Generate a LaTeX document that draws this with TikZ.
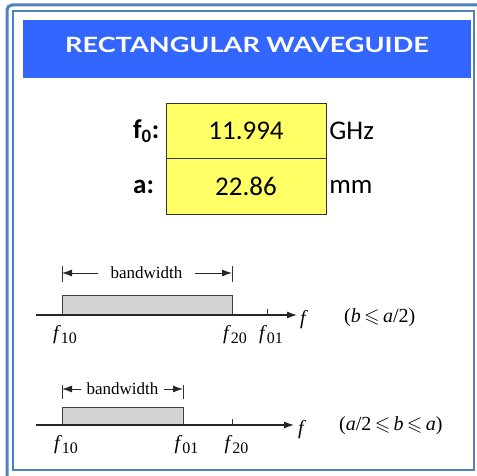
\documentclass[tikz,border=0pt]{standalone}
\usepackage{fontspec}
\usepackage{amssymb}
\usepackage{tikz}
\usetikzlibrary{arrows.meta,positioning}
\setmainfont{Liberation Serif}
\newfontfamily\calfont{Carlito}
\newfontfamily\ttlfont{Lato}
\definecolor{frameblue}{HTML}{4F81BD}
\definecolor{bannerblue}{HTML}{3366FF}
\definecolor{cellyellow}{HTML}{FFFF66}
\definecolor{bandgray}{HTML}{D4D4D4}
\newcommand{\fsub}[1]{\textit{f}\raisebox{-4.5pt}{\fontsize{16}{17}\selectfont #1}}

\begin{document}
\begin{tikzpicture}[x=1pt, y=-1pt,
    cell/.style={draw=black!80, fill=cellyellow, minimum width=160pt, minimum height=56pt,
                 inner sep=0pt, font=\calfont\fontsize{27}{30}\selectfont},
    side/.style={inner sep=0pt, font=\calfont\fontsize{27}{30}\selectfont},
    band/.style={draw=black!75, fill=bandgray, line width=0.9pt, inner sep=0pt},
    axis/.style={-{Latex[length=10pt, width=7pt]}, line width=1.1pt, black!85},
    bw/.style={-{Latex[length=10pt, width=7pt]}, line width=0.9pt, black!85},
    bar/.style={line width=0.9pt, black!80},
    flab/.style={anchor=north, inner sep=0pt, font=\fontsize{20}{22}\selectfont},
    txt/.style={inner sep=0pt, font=\fontsize{17}{20}\selectfont},
    bigtxt/.style={inner sep=0pt, anchor=west, font=\fontsize{20}{22}\selectfont}]
  \useasboundingbox (0,0) rectangle (477,476);
  \draw[frameblue, line width=3pt, rounded corners=5pt] (7,495) |- (495,5);
  \draw[frameblue, line width=2pt] (13,11) rectangle (474,470);
  \node[fill=bannerblue, minimum width=448pt, minimum height=58pt, inner sep=0pt] (banner) at (247,49) {};
  \node[inner sep=0pt, text=white, font=\ttlfont\bfseries\fontsize{21}{24}\selectfont] (title) at (247,45)
    {\scalebox{1.29}[1]{RECTANGULAR WAVEGUIDE}};

  \node[cell] (fval) at (246,131) {11.994};
  \node[cell, below=-0.8pt of fval] (aval) {22.86};
  \node[side, anchor=west] (flbl) at (133,131) {\bfseries f\textsubscript{0}:};
  \node[side, anchor=west] (albl) at (133,187) {\bfseries a:};
  \node[side, right=3pt of fval] (funit) {GHz};
  \node[side, right=3pt of aval] (aunit) {mm};

  \node[band, minimum width=170pt, minimum height=19pt, anchor=south west] (pass1) at (62,315) {};
  \coordinate (o1) at (36,315);
  \coordinate (e1) at (297,315);
  \draw[axis] (o1) -- (e1);
  \coordinate (t1) at (267,315);
  \draw[bar] (t1) -- ++(0,-6);
  \coordinate (bl1) at (62,266);
  \coordinate (br1) at (232,266);
  \draw[bar] (bl1) -- ++(0,16);
  \draw[bar] (br1) -- ++(0,16);
  \node[txt, inner xsep=12pt] (bwt1) at (146.5,273) {bandwidth};
  \draw[bw] (bwt1.west) -- (bwt1.west -| bl1);
  \draw[bw] (bwt1.east) -- (bwt1.east -| br1);
  \node[flab] (f10a) at (65,325) {\fsub{10}};
  \node[flab] (f20a) at (235,325) {\fsub{20}};
  \node[flab] (f01a) at (271,325) {\fsub{01}};
  \node[bigtxt] (fa1) at (300,320) {\textit{f}};
  \node[bigtxt] (cond1) at (344,318) {(\textit{b}\,$\leqslant$\,\textit{a}/2)};

  \node[band, minimum width=121pt, minimum height=17pt, anchor=south west] (pass2) at (62,425) {};
  \coordinate (o2) at (36,425);
  \coordinate (e2) at (294,425);
  \draw[axis] (o2) -- (e2);
  \coordinate (t2) at (232,425);
  \draw[bar] (t2) -- ++(0,-6);
  \coordinate (bl2) at (62,385);
  \coordinate (br2) at (183,385);
  \draw[bar] (bl2) -- ++(0,14);
  \draw[bar] (br2) -- ++(0,14);
  \node[txt, inner xsep=5pt] (bwt2) at (122.5,389) {bandwidth};
  \draw[bw] (bwt2.west) -- (bwt2.west -| bl2);
  \draw[bw] (bwt2.east) -- (bwt2.east -| br2);
  \node[flab] (f10b) at (66,435) {\fsub{10}};
  \node[flab] (f01b) at (186.5,435) {\fsub{01}};
  \node[flab] (f20b) at (236.5,435) {\fsub{20}};
  \node[bigtxt] (fa2) at (298,430) {\textit{f}};
  \node[bigtxt] (cond2) at (339,426) {(\textit{a}/2\,$\leqslant$\,\textit{b}\,$\leqslant$\,\textit{a})};
\end{tikzpicture}
\end{document}
